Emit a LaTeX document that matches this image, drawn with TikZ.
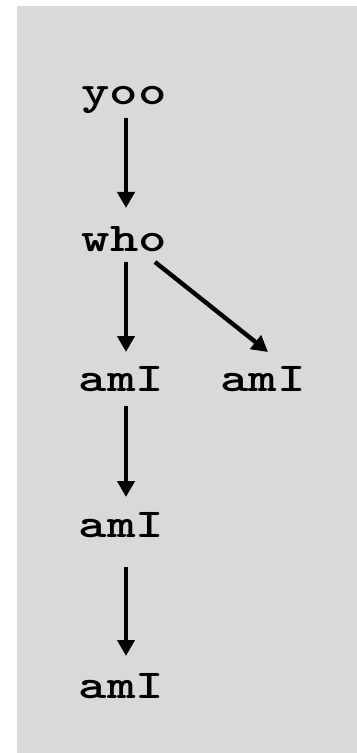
\documentclass[tikz,border=0pt]{standalone}
\usepackage{tikz}
\usetikzlibrary{arrows.meta}
\definecolor{panel}{RGB}{217,217,217}

\begin{document}
\begin{tikzpicture}[x=0.5pt,y=-0.5pt,
  word/.style={font=\fontsize{20.5}{24}\selectfont\ttfamily\bfseries,inner sep=0pt,anchor=base,xscale=1.32,transform shape},
  edge/.style={line width=2.2pt,-{Triangle[length=8pt,width=8.5pt]}}]
\useasboundingbox (0,0) rectangle (357,753);
\fill [panel] (17,6) rectangle (357,753);
\node [word] (yoo) at (124,105) {yoo};
\node [word] (who) at (124.5,252) {who};
\node [word] (ami1) at (121.5,391) {amI};
\node [word] (ami2) at (263,391) {amI};
\node [word] (ami3) at (121.5,537) {amI};
\node [word] (ami4) at (121.5,698) {amI};
\draw [edge] ([shift={(2,13)}]yoo.base) -- ([shift={(1.5,-44)}]who.base);
\draw [edge] ([shift={(1.5,10)}]who.base) -- ([shift={(4.5,-39)}]ami1.base);
\draw [edge] ([shift={(30.5,10)}]who.base) -- ([shift={(5,-39)}]ami2.base);
\draw [edge] ([shift={(4.5,15)}]ami1.base) -- ([shift={(4.5,-40)}]ami3.base);
\draw [edge] ([shift={(4.5,30)}]ami3.base) -- ([shift={(4.5,-42)}]ami4.base);
\end{tikzpicture}
\end{document}
